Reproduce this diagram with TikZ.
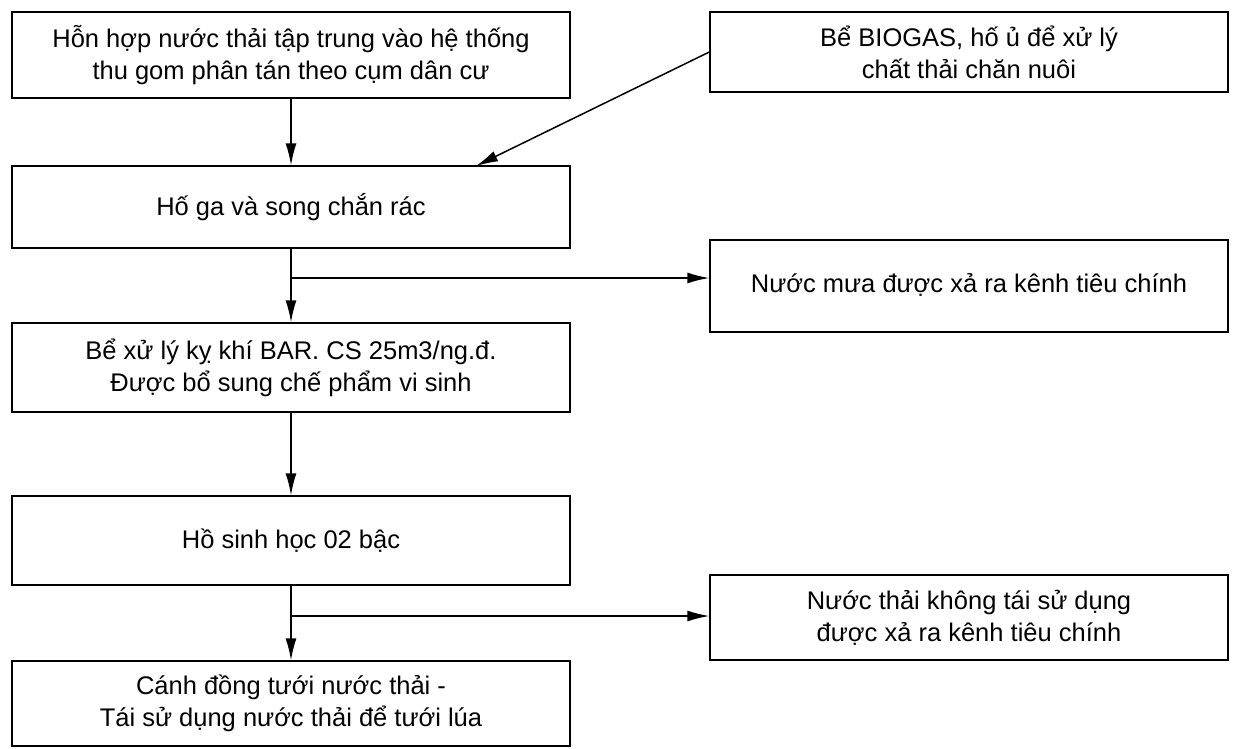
\documentclass[tikz,border=0pt]{standalone}
\usepackage{fontspec}
\setmainfont{Liberation Sans}
\usetikzlibrary{arrows.meta,calc}
\begin{document}
\begin{tikzpicture}[x=1pt,y=-1pt,
  box/.style={draw,line width=1.5pt,rectangle,inner sep=0pt,align=center,
    font=\fontsize{25.5}{32}\selectfont},
  lbox/.style={box,minimum width=558pt},
  rbox/.style={box,minimum width=518pt},
  arr/.style={line width=1.5pt,-{Latex[length=22pt,width=11pt]}}]
\useasboundingbox (0,0) rectangle (1236,748);
\node[lbox,minimum height=86pt] (b1) at (291,55) {Hỗn hợp nước thải tập trung vào hệ thống\\thu gom phân tán theo cụm dân cư};
\node[rbox,minimum height=80pt] (b2) at (969,52) {Bể BIOGAS, hố ủ để xử lý\\chất thải chăn nuôi};
\node[lbox,minimum height=82pt] (b3) at (291,207) {Hố ga và song chắn rác};
\node[rbox,minimum height=92pt] (rain) at (969,286) {\raisebox{6pt}{Nước mưa được xả ra kênh tiêu chính}};
\node[lbox,minimum height=89pt] (b5) at (291,367.5) {Bể xử lý kỵ khí BAR. CS 25m3/ng.đ.\\Được bổ sung chế phẩm vi sinh};
\node[lbox,minimum height=89pt] (b6) at (291,540.5) {Hồ sinh học 02 bậc};
\node[rbox,minimum height=85pt] (waste) at (969,617.5) {Nước thải không tái sử dụng\\được xả ra kênh tiêu chính};
\node[lbox,minimum height=85pt] (b8) at (291,703.5) {Cánh đồng tưới nước thải -\\Tái sử dụng nước thải để tưới lúa};
\coordinate (j1) at (291,278);
\coordinate (j2) at (291,616);
\coordinate (t3) at (476,166);
\draw[arr] (b1) -- (b3);
\draw[arr] (b2.west) -- (t3);
\draw[arr] (b3) -- (b5);
\draw[arr] (j1) -- (j1 -| rain.west);
\draw[arr] (b5) -- (b6);
\draw[arr] (b6) -- (b8);
\draw[arr] (j2) -- (j2 -| waste.west);
\end{tikzpicture}
\end{document}
